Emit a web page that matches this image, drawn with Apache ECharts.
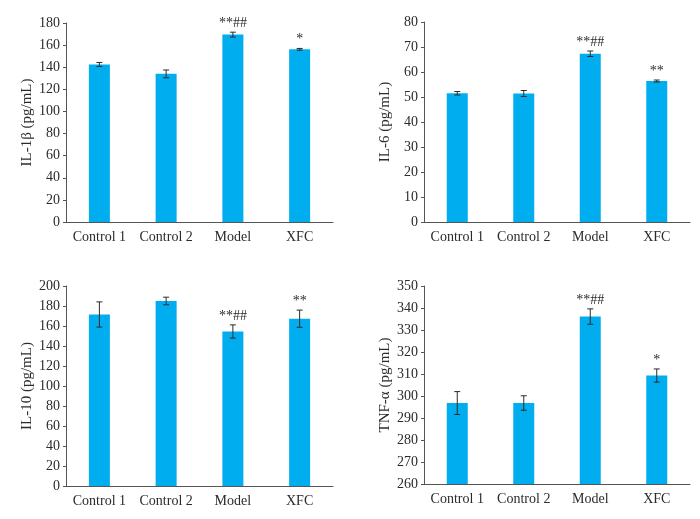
<!DOCTYPE html>
<html>
<head>
    <meta charset="utf-8">
    <title>Cytokine levels</title>
    <script src="https://cdn.jsdelivr.net/npm/echarts@6/dist/echarts.min.js"></script>
</head>
<body style="margin:0;background:#fff;">
    <div id="main" style="width:700px;height:519px;"></div>
    <script type="text/javascript">
        // groups on the x axis
        var categories = ['Control 1', 'Control 2', 'Model', 'XFC'];

        // mean values and error (SD)
        var il1b = [142.5, 134, 169.5, 156.2];
        var il1bErr = [1.8, 3.5, 2.2, 0.8];
        var il1bMarks = ['', '', '**##', '*'];

        var il6 = [51.5, 51.4, 67.3, 56.4];
        var il6Err = [0.7, 1.2, 1.1, 0.4];
        var il6Marks = ['', '', '**##', '**'];

        var il10 = [171.5, 185, 154.5, 167.3];
        var il10Err = [12.6, 3.8, 6.6, 8.6];
        var il10Marks = ['', '', '**##', '**'];

        var tnf = [296.8, 296.8, 336.1, 309.3];
        var tnfErr = [5.2, 3.3, 3.5, 3.0];
        var tnfMarks = ['', '', '**##', '*'];

        // axis ranges
        var il1bAxis = {min: 0, max: 180, interval: 20};
        var il6Axis = {min: 0, max: 80, interval: 10};
        var il10Axis = {min: 0, max: 200, interval: 20};
        var tnfAxis = {min: 260, max: 350, interval: 10};

        var myChart = echarts.init(document.getElementById('main'));

        var font = "'Liberation Serif', 'Times New Roman', serif";
        var barColor = '#00aeef';
        var inkColor = '#2b2b2b';

        function yAxisOf(idx, name, range) {
            return {
                type: 'value',
                gridIndex: idx,
                min: range.min,
                max: range.max,
                interval: range.interval,
                name: name,
                nameLocation: 'middle',
                nameGap: 31,
                nameTextStyle: {fontFamily: font, fontSize: 15, color: inkColor},
                axisLine: {show: true, lineStyle: {color: '#555', width: 1}},
                axisTick: {show: true, length: 3, lineStyle: {color: '#555'}},
                axisLabel: {fontFamily: font, fontSize: 14, color: inkColor, margin: 6},
                splitLine: {show: false}
            };
        }

        function xAxisOf(idx) {
            return {
                type: 'category',
                gridIndex: idx,
                data: categories,
                axisLine: {show: true, lineStyle: {color: '#555', width: 1}},
                axisTick: {show: false},
                axisLabel: {interval: 0, fontFamily: font, fontSize: 14, color: inkColor, margin: 8}
            };
        }

        function errorSeries(idx, vals, errs, marks) {
            var data = [];
            for (var i = 0; i < vals.length; i++) {
                data.push([i, vals[i], errs[i]]);
            }
            return {
                type: 'custom',
                xAxisIndex: idx,
                yAxisIndex: idx,
                z: 10,
                data: data,
                renderItem: function (params, api) {
                    var x = api.value(0);
                    var v = api.value(1);
                    var e = api.value(2);
                    var hi = api.coord([x, v + e]);
                    var lo = api.coord([x, v - e]);
                    var cap = 3;
                    var style = {stroke: inkColor, lineWidth: 1};
                    var children = [
                        {type: 'line', shape: {x1: hi[0], y1: hi[1], x2: lo[0], y2: lo[1]}, style: style},
                        {type: 'line', shape: {x1: hi[0] - cap, y1: hi[1], x2: hi[0] + cap, y2: hi[1]}, style: style},
                        {type: 'line', shape: {x1: lo[0] - cap, y1: lo[1], x2: lo[0] + cap, y2: lo[1]}, style: style}
                    ];
                    var m = marks[params.dataIndex];
                    if (m) {
                        children.push({
                            type: 'text',
                            style: {
                                text: m,
                                x: hi[0],
                                y: hi[1] - 2,
                                align: 'center',
                                verticalAlign: 'bottom',
                                fontFamily: font,
                                fontSize: 14,
                                fill: inkColor
                            }
                        });
                    }
                    return {type: 'group', children: children};
                }
            };
        }

        function barSeries(idx, vals) {
            return {
                type: 'bar',
                xAxisIndex: idx,
                yAxisIndex: idx,
                barWidth: 21,
                itemStyle: {color: barColor},
                data: vals
            };
        }

        var option = {
            animation: false,
            grid: [
                {left: 66, top: 23, width: 267, height: 199},
                {left: 424, top: 22, width: 266, height: 200},
                {left: 66, top: 286, width: 267, height: 200},
                {left: 424, top: 286, width: 266, height: 198}
            ],
            xAxis: [xAxisOf(0), xAxisOf(1), xAxisOf(2), xAxisOf(3)],
            yAxis: [
                yAxisOf(0, 'IL-1β (pg/mL)', il1bAxis),
                yAxisOf(1, 'IL-6 (pg/mL)', il6Axis),
                yAxisOf(2, 'IL-10 (pg/mL)', il10Axis),
                yAxisOf(3, 'TNF-α (pg/mL)', tnfAxis)
            ],
            series: [
                barSeries(0, il1b), errorSeries(0, il1b, il1bErr, il1bMarks),
                barSeries(1, il6), errorSeries(1, il6, il6Err, il6Marks),
                barSeries(2, il10), errorSeries(2, il10, il10Err, il10Marks),
                barSeries(3, tnf), errorSeries(3, tnf, tnfErr, tnfMarks)
            ]
        };

        myChart.setOption(option);
    </script>
</body>
</html>
